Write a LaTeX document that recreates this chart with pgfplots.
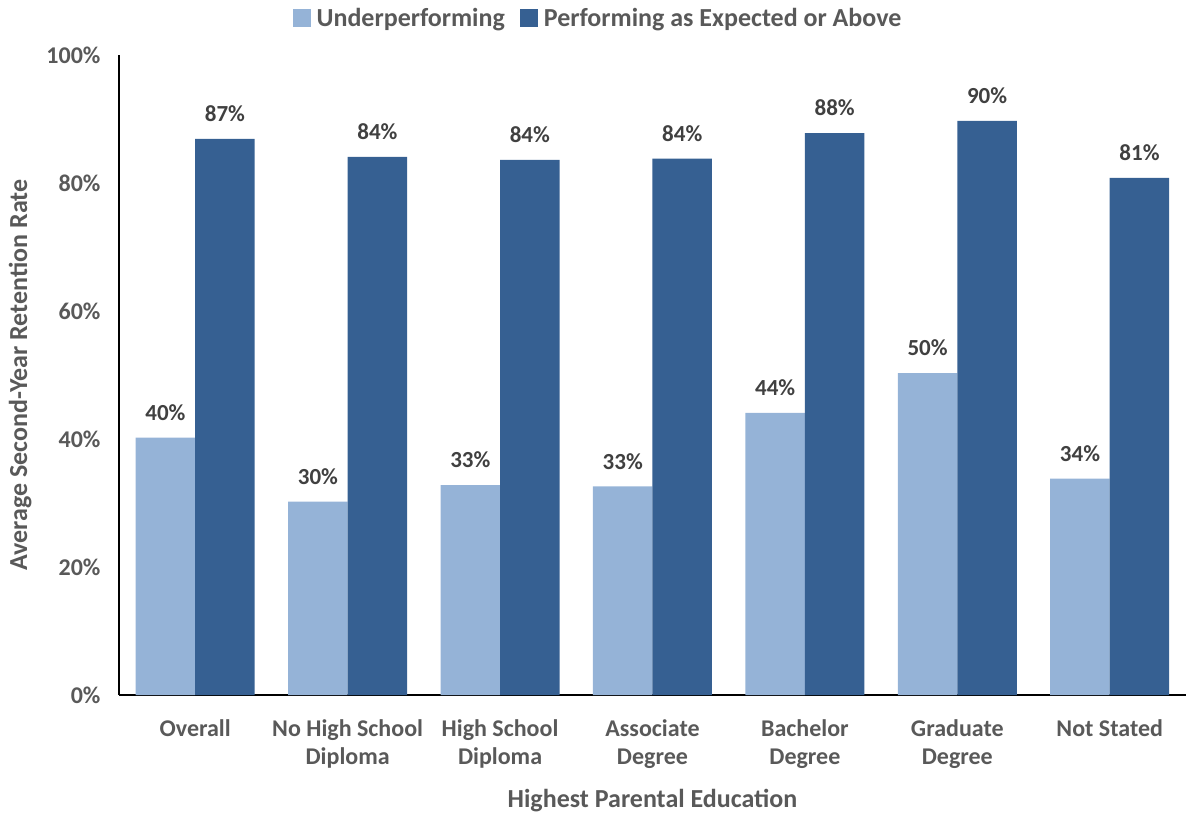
\documentclass[border=0pt]{standalone}
\usepackage{fontspec}
\setmainfont{Carlito}
\usepackage{pgfplots}
\pgfplotsset{compat=1.18}
\definecolor{lightb}{HTML}{95B3D7}
\definecolor{darkb}{HTML}{366092}
\definecolor{txt}{HTML}{404040}
\definecolor{tick}{HTML}{595959}
\begin{document}
\begin{tikzpicture}
\begin{axis}[
  name=ax,
  scale only axis,
  width=1067pt, height=640pt,
  ybar, bar width=59.5pt, ybar=0pt,
  xmin=-0.5, xmax=6.5,
  ymin=0, ymax=100,
  axis lines*=left,
  axis line style={black, line width=1.8pt},
  xtick=data,
  xticklabels={Overall, {No High School\\Diploma}, {High School\\Diploma}, {Associate\\Degree}, {Bachelor\\Degree}, {Graduate\\Degree}, Not Stated},
  xticklabel style={align=center, font=\fontsize{24}{28}\selectfont\bfseries, text=tick, yshift=-17pt},
  xtick style={draw=none},
  ytick={0,20,40,60,80,100},
  yticklabel={\pgfmathprintnumber{\tick}\%},
  yticklabel style={font=\fontsize{24}{28}\selectfont\bfseries, text=tick, xshift=-15pt},
  ytick style={draw=none},
  /pgf/number format/assume math mode=true,
  xlabel={Highest Parental Education},
  xlabel style={font=\fontsize{26}{30}\selectfont\bfseries, text=tick, yshift=-14pt},
  ylabel={Average Second-Year Retention Rate},
  ylabel style={font=\fontsize{26}{30}\selectfont\bfseries, text=tick, yshift=8pt},
  nodes near coords={\pgfmathprintnumber[fixed,precision=0]{\pgfplotspointmeta}\%},
  nodes near coords style={font=\fontsize{23}{27}\selectfont\bfseries, text=txt, yshift=13.5pt},
  point meta=y,
  legend style={at={(0.449,1.058)}, anchor=center, draw=none, fill=none,
    legend columns=-1, font=\fontsize{26}{30}\selectfont\bfseries, text=tick,
    /tikz/every even column/.append style={column sep=13pt},
    /tikz/every odd column/.append style={column sep=4pt}},
  legend image code/.code={\fill[#1] (0pt,-9pt) rectangle (18pt,9pt);},
]
\addplot[fill=lightb, draw=none] coordinates {(0,40.2) (1,30.2) (2,32.8) (3,32.6) (4,44.1) (5,50.3) (6,33.8)};
\addplot[fill=darkb, draw=none] coordinates {(0,86.9) (1,84.1) (2,83.6) (3,83.8) (4,87.8) (5,89.7) (6,80.8)};
\legend{Underperforming, Performing as Expected or Above}
\end{axis}
\pgfresetboundingbox
\path ([shift={(-119pt,-119pt)}]ax.south west) rectangle ([shift={(1067pt,695pt)}]ax.south west);
\end{tikzpicture}
\end{document}
